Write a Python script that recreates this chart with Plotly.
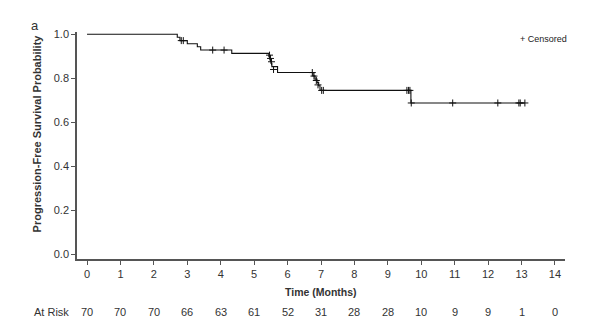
import plotly.graph_objects as go

# Kaplan-Meier step curve (time in months, survival probability)
step_times = [0, 2.60, 2.70, 2.78, 3.00, 3.30, 3.40, 4.33, 5.44, 5.47, 5.50, 5.53, 5.70,
              6.76, 6.82, 6.88, 6.93, 6.97, 9.69, 13.10]
step_surv = [1.0, 1.0, 0.986, 0.971, 0.957, 0.943, 0.928, 0.913, 0.898, 0.883, 0.868, 0.853, 0.826,
             0.811, 0.796, 0.781, 0.766, 0.745, 0.688, 0.688]

# censored observations
cens_times = [2.82, 2.88, 3.76, 4.10, 5.46, 5.49, 5.52, 5.58,
              6.74, 6.79, 6.86, 6.91, 7.02, 7.07,
              9.57, 9.62, 9.66, 9.70, 10.94, 12.29, 12.92, 12.96, 13.10]
cens_surv = [0.971, 0.971, 0.928, 0.928, 0.905, 0.89, 0.875, 0.84,
             0.826, 0.81, 0.79, 0.77, 0.745, 0.745,
             0.745, 0.745, 0.745, 0.688, 0.688, 0.688, 0.688, 0.688, 0.688]

x_ticks = list(range(0, 15))
y_ticks = [0.0, 0.2, 0.4, 0.6, 0.8, 1.0]
at_risk = [70, 70, 70, 66, 63, 61, 52, 31, 28, 28, 10, 9, 9, 1, 0]

FONT = "Liberation Sans, Arial, sans-serif"
AX = "#555555"

fig = go.Figure()
fig.add_trace(go.Scatter(x=step_times, y=step_surv, mode="lines",
                         line=dict(shape="hv", color="#111111", width=1.1),
                         hoverinfo="skip", showlegend=False))
fig.add_trace(go.Scatter(x=cens_times, y=cens_surv, mode="markers",
                         marker=dict(symbol="cross-thin", size=5,
                                     line=dict(color="#111111", width=1)),
                         hoverinfo="skip", showlegend=False))

annotations = []
for t, n in zip(x_ticks, at_risk):
    annotations.append(dict(x=t, y=-0.233, xref="x", yref="paper", text=str(n),
                            showarrow=False, xanchor="center", yanchor="middle",
                            font=dict(family=FONT, size=11, color="#333333")))
annotations.append(dict(x=-0.012, y=-0.233, xref="paper", yref="paper", text="At Risk",
                        showarrow=False, xanchor="right", yanchor="middle",
                        font=dict(family=FONT, size=11, color="#333333")))
annotations.append(dict(x=0.5, y=-0.145, xref="paper", yref="paper", text="<b>Time (Months)</b>",
                        showarrow=False, xanchor="center", yanchor="middle",
                        font=dict(family=FONT, size=10.5, color="#333333")))
annotations.append(dict(x=-0.08, y=0.553, xref="paper", yref="paper",
                        text="<b>Progression-Free Survival Probability</b>", textangle=-90,
                        showarrow=False, xanchor="center", yanchor="middle",
                        font=dict(family=FONT, size=11, color="#333333")))
annotations.append(dict(x=-0.086, y=1.03, xref="paper", yref="paper", text="a",
                        showarrow=False, xanchor="center", yanchor="middle",
                        font=dict(family=FONT, size=13, color="#333333")))
annotations.append(dict(x=0.904, y=0.969, xref="paper", yref="paper", text="+ Censored",
                        showarrow=False, xanchor="left", yanchor="middle",
                        font=dict(family=FONT, size=9, color="#222222")))

fig.update_layout(
    width=594, height=335,
    margin=dict(l=77, r=29, t=32, b=76),
    paper_bgcolor="white", plot_bgcolor="white",
    annotations=annotations,
    xaxis=dict(range=[-0.3, 14.3], tickmode="array", tickvals=x_ticks,
               ticktext=[str(t) for t in x_ticks],
               showgrid=False, zeroline=False, showline=True, linecolor=AX, linewidth=1.5,
               ticks="outside", ticklen=4, tickcolor=AX, tickwidth=1.2,
               tickfont=dict(family=FONT, size=11, color="#333333")),
    yaxis=dict(range=[-0.02, 1.01], tickmode="array", tickvals=y_ticks,
               ticktext=[f"{v:.1f}" for v in y_ticks],
               showgrid=False, zeroline=False, showline=True, linecolor=AX, linewidth=1.5,
               ticks="outside", ticklen=4, tickcolor=AX, tickwidth=1.2,
               tickfont=dict(family=FONT, size=11, color="#333333")),
)

fig.write_html("out.html")
